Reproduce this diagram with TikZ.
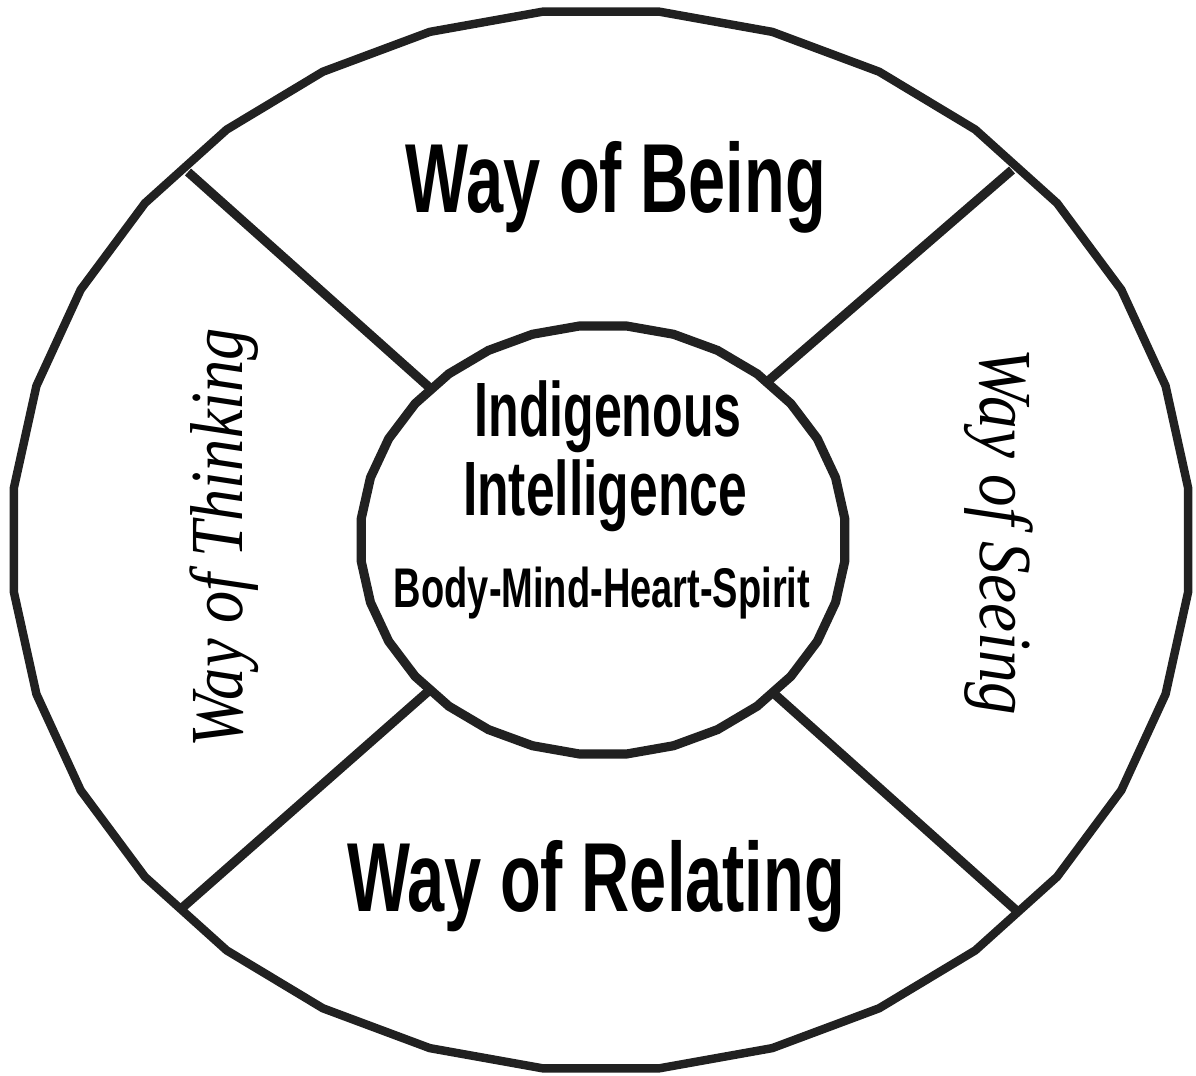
\documentclass[tikz,border=0pt]{standalone}
\usepackage{fontspec}
\setmainfont{Liberation Serif}
\setsansfont{Liberation Sans}

\tikzset{
  ring/.style={line width=2.4pt, draw=black!87},
  spoke/.style={line width=2.6pt, draw=black!87},
  waytext/.style={font=\sffamily\bfseries\fontsize{27.9}{30}\selectfont, inner sep=0pt, anchor=base},
  coretext/.style={font=\sffamily\bfseries\fontsize{21.9}{24}\selectfont, inner sep=0pt, anchor=base},
  subtext/.style={font=\sffamily\bfseries\fontsize{15.9}{18}\selectfont, inner sep=0pt, anchor=base},
  sidetext/.style={font=\itshape\fontsize{21.3}{24}\selectfont, inner sep=0pt, anchor=base},
}
\newcommand{\squeeze}[2]{\scalebox{#1}[1]{#2}}

\begin{document}
\begin{tikzpicture}[x=0.01cm,y=-0.01cm]
    \useasboundingbox (0,0) rectangle (1196,1076);

    % Outer and inner rings
    \draw[ring] plot[samples=33, domain=5.625:365.625] ({601+590*cos(\x)},{540+531*sin(\x)}) -- cycle;
    \draw[ring, line width=2.6pt] plot[samples=33, domain=5.625:365.625] ({603+243*cos(\x)},{540+215*sin(\x)}) -- cycle;

    % Spoke ends
    \coordinate (tlIn) at (430,388);
    \coordinate (tlOut) at (188,172);
    \coordinate (trIn) at (767,382);
    \coordinate (trOut) at (1012,170);
    \coordinate (blIn) at (432,688);
    \coordinate (blOut) at (182,908);
    \coordinate (brIn) at (770,690);
    \coordinate (brOut) at (1018,912);

    % Spokes
    \draw[spoke] (tlIn) -- (tlOut);
    \draw[spoke] (trIn) -- (trOut);
    \draw[spoke] (blIn) -- (blOut);
    \draw[spoke] (brIn) -- (brOut);

    % Quarter labels
    \node[waytext] (being) at (616,213) {\squeeze{0.68}{Way of Being}};
    \node[waytext] (relating) at (596,912) {\squeeze{0.68}{Way of Relating}};
    \node[sidetext, rotate=90] (thinking) at (242,538) {\squeeze{0.86}{Way of Thinking}};
    \node[sidetext, rotate=-90] (seeing) at (980,532) {\squeeze{0.87}{Way of Seeing}};

    % Centre
    \node[coretext] (indig) at (608,437) {\squeeze{0.65}{Indigenous}};
    \node[coretext] (intel) at (605,515) {\squeeze{0.67}{Intelligence}};
    \node[subtext] (bmhs) at (602,607) {\squeeze{0.68}{Body-Mind-Heart-Spirit}};
\end{tikzpicture}
\end{document}
